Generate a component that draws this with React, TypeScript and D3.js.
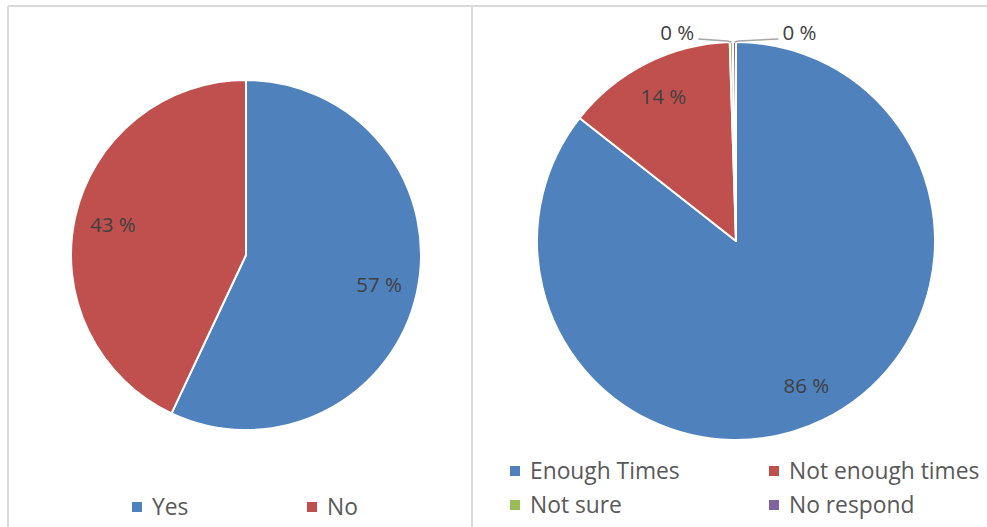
import React from "react";
import * as d3 from "d3";

// Survey answers, in percent
const answerCategories = ["Yes", "No"];
const answerValues = [57, 43];

const frequencyCategories = ["Enough Times", "Not enough times", "Not sure", "No respond"];
const frequencyValues = [85.6, 13.9, 0.25, 0.25];

const sliceColors = ["#4f81bd", "#c0504d", "#9bbb59", "#8064a2"];

const W = 987;
const H = 527;
const FONT = "'Open Sans', 'Noto Sans', sans-serif";
const LABEL_COLOR = "#404040";
const LEGEND_COLOR = "#595959";
const LABEL_SIZE = 20.5;
const LEGEND_SIZE = 22.8;

type PieProps = {
  values: number[];
  cx: number;
  cy: number;
  r: number;
  labelRatio: number;
};

const fmt = (v: number) => `${Math.round(v)} %`;

function Pie({ values, cx, cy, r, labelRatio }: PieProps) {
  const pie = d3.pie<number>().sort(null).value((d) => d);
  const arcs = pie(values);
  const arc = d3.arc<d3.PieArcDatum<number>>().innerRadius(0).outerRadius(r);
  const labelArc = d3
    .arc<d3.PieArcDatum<number>>()
    .innerRadius(r * labelRatio)
    .outerRadius(r * labelRatio);
  const total = d3.sum(values);

  // thin slices get outside labels, alternating left / right
  let thinCount = 0;

  return (
    <g transform={`translate(${cx},${cy})`}>
      {arcs.map((a, i) => (
        <path key={i} d={arc(a) || ""} fill={sliceColors[i]} stroke="#fff" strokeWidth={2} strokeLinejoin="round" />
      ))}
      {arcs.map((a, i) => {
        const share = a.value / total;
        if (share >= 0.02) {
          const [lx, ly] = labelArc.centroid(a);
          return (
            <text key={`l${i}`} x={lx} y={ly} dy="0.35em" textAnchor="middle" fontFamily={FONT} fontSize={LABEL_SIZE} fill={LABEL_COLOR}>
              {fmt(a.value)}
            </text>
          );
        }
        const mid = (a.startAngle + a.endAngle) / 2;
        const ex = Math.sin(mid) * r;
        const ey = -Math.cos(mid) * r;
        const side = thinCount++ % 2 === 0 ? -1 : 1;
        const x1 = ex + side * 4;
        const y1 = ey - 1;
        const x2 = ex + side * (side < 0 ? 33 : 44);
        const y2 = ey - 3;
        return (
          <g key={`o${i}`}>
            <polyline points={`${ex},${ey} ${x1},${y1} ${x2},${y2}`} fill="none" stroke="#a6a6a6" strokeWidth={1.5} />
            <text
              x={x2 + side * 4}
              y={y2 - 6}
              textAnchor={side < 0 ? "end" : "start"}
              dy="0.35em"
              fontFamily={FONT}
              fontSize={LABEL_SIZE}
              fill={LABEL_COLOR}
            >
              {fmt(a.value)}
            </text>
          </g>
        );
      })}
    </g>
  );
}

type LegendProps = {
  items: string[];
  x: number;
  y: number;
  colStep: number;
  rowStep: number;
  cols: number;
};

function Legend({ items, x, y, colStep, rowStep, cols }: LegendProps) {
  return (
    <g>
      {items.map((name, i) => {
        const col = i % cols;
        const row = Math.floor(i / cols);
        const lx = x + col * colStep;
        const ly = y + row * rowStep;
        return (
          <g key={name} transform={`translate(${lx},${ly})`}>
            <rect x={0} y={-5} width={10} height={10} fill={sliceColors[i]} />
            <text x={20} y={0} dy="0.35em" fontFamily={FONT} fontSize={LEGEND_SIZE} fill={LEGEND_COLOR}>
              {name}
            </text>
          </g>
        );
      })}
    </g>
  );
}

export default function App() {
  return (
    <svg
      width={W}
      height={H}
      viewBox={`0 0 ${W} ${H}`}
      style={{ position: "fixed", left: 0, top: 0, background: "#fff" }}
    >
      <rect x={0} y={0} width={W} height={H} fill="#fff" />
      {/* panel frames */}
      <line x1={8} y1={6} x2={W} y2={6} stroke="#d9d9d9" strokeWidth={2} />
      <line x1={8} y1={6} x2={8} y2={H} stroke="#d9d9d9" strokeWidth={2} />
      <line x1={472} y1={6} x2={472} y2={H} stroke="#d9d9d9" strokeWidth={2} />

      <Pie values={answerValues} cx={246} cy={255} r={175} labelRatio={0.78} />
      <Legend items={answerCategories} x={132} y={507} colStep={175} rowStep={0} cols={2} />

      <Pie values={frequencyValues} cx={736} cy={241} r={199} labelRatio={0.81} />
      <Legend items={frequencyCategories} x={510} y={471} colStep={259} rowStep={34} cols={2} />
    </svg>
  );
}
